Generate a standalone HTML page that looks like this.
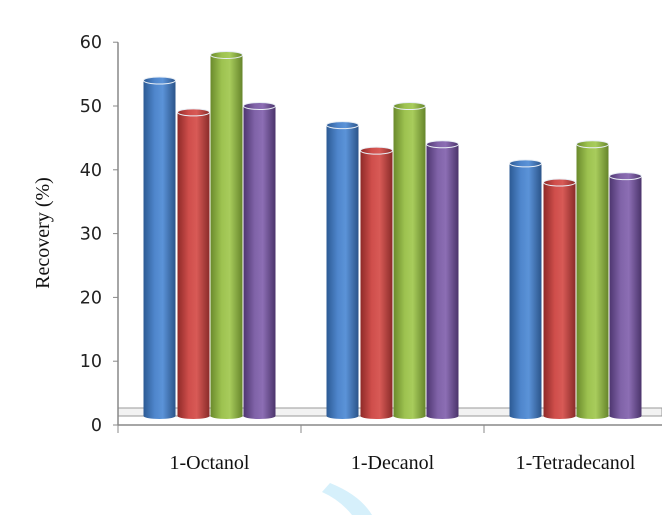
<!DOCTYPE html>
<html><head><meta charset="utf-8"><style>
html,body{margin:0;padding:0;background:#fff;}
svg{display:block;}
</style></head><body>
<svg id="chart" width="662" height="515" xmlns="http://www.w3.org/2000/svg">
<defs>
<linearGradient id="g0" x1="0" x2="1"><stop offset="0" stop-color="#2c5a94"/><stop offset="0.35" stop-color="#4f86cc"/><stop offset="0.6" stop-color="#5b93d8"/><stop offset="1" stop-color="#2b548a"/></linearGradient>
<linearGradient id="g1" x1="0" x2="1"><stop offset="0" stop-color="#8e2a28"/><stop offset="0.35" stop-color="#cf4e4b"/><stop offset="0.6" stop-color="#d85a56"/><stop offset="1" stop-color="#8a2b29"/></linearGradient>
<linearGradient id="g2" x1="0" x2="1"><stop offset="0" stop-color="#6a8a2c"/><stop offset="0.35" stop-color="#9dc250"/><stop offset="0.6" stop-color="#a8cc5c"/><stop offset="1" stop-color="#66852b"/></linearGradient>
<linearGradient id="g3" x1="0" x2="1"><stop offset="0" stop-color="#4e3670"/><stop offset="0.35" stop-color="#8063a8"/><stop offset="0.6" stop-color="#8c6eb4"/><stop offset="1" stop-color="#4b346b"/></linearGradient>
</defs>
<g id="floor">
<polygon points="118,408 662,408 662,416 118,416" fill="#f2f2f2" stroke="#999" stroke-width="1"/>
</g>
<g id="axes"></g>
<g id="bars"></g>
<g id="labels"></g>
<text transform="translate(49,233) rotate(-90)" text-anchor="middle" font-family="Liberation Serif, serif" font-size="20" fill="#111">Recovery (%)</text>
<path d="M322,492 Q340,500 352,515 L372,515 Q360,495 330,483 Z" fill="#d6f0fb"/>
</svg>
<script>
const categories = ["1-Octanol","1-Decanol","1-Tetradecanol"];
const series1 = [54,47,41];
const series2 = [49,43,38];
const series3 = [58,50,44];
const series4 = [50,44,39];
const yTicks = [0,10,20,30,40,50,60];

const NS="http://www.w3.org/2000/svg";
const x0=118, band=183, yZero=425, yPer=6.38, barW=32, floorY=416;
const y=v=>yZero-v*yPer;
function mk(tag,attrs,parent){const e=document.createElementNS(NS,tag);for(const k in attrs)e.setAttribute(k,attrs[k]);parent.appendChild(e);return e;}
const axes=document.getElementById('axes'), bars=document.getElementById('bars'), labels=document.getElementById('labels');
let yl=mk('line',{x1:x0,y1:y(60),x2:x0,y2:y(0),stroke:'#888','stroke-width':1.5},axes);


let xl=mk('line',{x1:x0,y1:y(0),x2:662,y2:y(0),stroke:'#888','stroke-width':1.5},axes);


yTicks.forEach(t=>{
  mk('line',{x1:x0-5,y1:y(t),x2:x0,y2:y(t),stroke:'#888'},axes);
  const tx=mk('text',{x:x0-16,y:y(t)+6,'text-anchor':'end','font-family':'DejaVu Sans, sans-serif','font-size':17.5,fill:'#222'},labels);
  tx.textContent=t;
  
  
});
for(let i=0;i<=categories.length;i++){mk('line',{x1:x0+i*band,y1:y(0),x2:x0+i*band,y2:y(0)+8,stroke:'#888'},axes);}
const all=[series1,series2,series3,series4];
const offs=[-66,-32,1,34];
categories.forEach((c,i)=>{
  const cx=x0+band*(i+0.5);
  all.forEach((s,j)=>{
    const left=cx+offs[j], top=y(s[i]);
    const g=mk('g',{},bars);
    
    
    mk('rect',{x:left,y:top,width:barW,height:floorY-top,fill:'url(#g'+j+')'},g);
    mk('ellipse',{cx:left+barW/2,cy:floorY,rx:barW/2,ry:3,fill:'url(#g'+j+')'},g);
    mk('ellipse',{cx:left+barW/2,cy:top,rx:barW/2,ry:3.5,fill:'url(#g'+j+')',stroke:'#e8eef5','stroke-width':1},g);
  });
  const t=mk('text',{x:cx,y:469,'text-anchor':'middle','font-family':'Liberation Serif, serif','font-size':20,fill:'#111'},labels);
  t.textContent=c;
  
  
});
</script>
</body></html>
